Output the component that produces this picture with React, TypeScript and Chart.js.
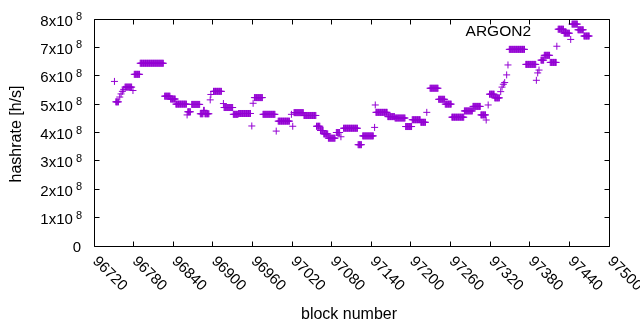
import React, { useEffect, useRef } from "react";
import { Chart, registerables } from "chart.js";

Chart.register(...registerables);

// ---- data: runs of consecutive blocks that share one hashrate value ----
const runStart = [
  96751, 96753, 96759, 96761, 96763, 96765, 96767, 96779, 96781, 96790,
  96827, 96836, 96844, 96861, 96862, 96868, 96881, 96886, 96888, 96896,
  96897, 96901, 96916, 96917, 96931, 96939, 96959, 96961, 96963, 96976,
  96996, 96999, 97019, 97021, 97023, 97038, 97057, 97063, 97068, 97075,
  97087, 97094, 97098, 97120, 97127, 97145, 97146, 97147, 97165, 97176,
  97192, 97202, 97215, 97224, 97229, 97242, 97252, 97262, 97281, 97294,
  97306, 97314, 97317, 97319, 97327, 97336, 97338, 97340, 97342, 97345,
  97347, 97349, 97374, 97390, 97392, 97394, 97397, 97402, 97411, 97421,
  97423, 97432, 97442, 97444, 97453, 97462,
];
const runEnd = [
  96751, 96757, 96759, 96761, 96763, 96765, 96777, 96779, 96789, 96825,
  96835, 96843, 96860, 96861, 96866, 96880, 96885, 96887, 96894, 96896,
  96897, 96913, 96916, 96930, 96938, 96957, 96959, 96961, 96975, 96994,
  96996, 97016, 97019, 97021, 97037, 97056, 97062, 97067, 97074, 97085,
  97092, 97094, 97119, 97125, 97143, 97145, 97146, 97164, 97175, 97191,
  97201, 97214, 97222, 97224, 97241, 97251, 97261, 97280, 97293, 97305,
  97313, 97314, 97317, 97326, 97334, 97336, 97338, 97340, 97342, 97345,
  97347, 97372, 97389, 97390, 97392, 97394, 97401, 97410, 97420, 97421,
  97431, 97440, 97442, 97452, 97461, 97470,
];
// hashrate in units of 1e8 h/s
const runHashrate = [
  5.8, 5.08, 5.25, 5.36, 5.45, 5.52, 5.6, 5.48, 6.05, 6.44,
  5.28, 5.18, 5.0, 4.62, 4.73, 4.99, 4.66, 4.78, 4.66, 5.15,
  5.34, 5.45, 5.02, 4.88, 4.64, 4.67, 4.23, 5.03, 5.23, 4.64,
  4.05, 4.4, 4.64, 4.22, 4.7, 4.6, 4.22, 4.07, 3.95, 3.8,
  4.0, 3.85, 4.15, 3.57, 3.88, 4.18, 4.97, 4.71, 4.56, 4.51,
  4.21, 4.45, 4.36, 4.71, 5.56, 5.17, 5.0, 4.54, 4.76, 4.92,
  4.62, 4.44, 4.97, 5.35, 5.22, 5.44, 5.6, 5.7, 5.76, 6.03,
  6.38, 6.93, 6.4, 5.84, 6.1, 6.2, 6.55, 6.72, 6.47, 7.04,
  7.64, 7.5, 7.28, 7.82, 7.62, 7.4,
];
const UNIT = 1e8;

const xTicks = [96720, 96780, 96840, 96900, 96960, 97020, 97080, 97140, 97200, 97260, 97320, 97380, 97440, 97500];
const yTicks = [0, 1, 2, 3, 4, 5, 6, 7, 8];
const yExponent = "8";
const seriesName = "ARGON2";
const xTitle = "block number";
const yTitle = "hashrate [h/s]";
const COLOR = "#9400D3";
const FONT = "'Liberation Sans', Arial, sans-serif";

function buildPoints() {
  const pts: { x: number; y: number }[] = [];
  for (let i = 0; i < runStart.length; i++) {
    for (let b = runStart[i]; b <= runEnd[i]; b++) {
      pts.push({ x: b, y: runHashrate[i] * UNIT });
    }
  }
  return pts;
}

const gnuplotFrame = {
  id: "gnuplotFrame",
  afterDatasetsDraw(chart: any) {
    const ctx: CanvasRenderingContext2D = chart.ctx;
    const xs = chart.scales.x;
    const ys = chart.scales.y;
    const a = chart.chartArea;
    const L = Math.floor(a.left) + 0.5;
    const R = Math.floor(a.right) + 0.5;
    const T = Math.floor(a.top) + 0.5;
    const B = Math.floor(a.bottom) + 0.5;
    ctx.save();
    ctx.strokeStyle = "#000";
    ctx.lineWidth = 1;
    ctx.beginPath();
    ctx.rect(L, T, R - L, B - T);
    // ticks (inward, mirrored)
    const tl = 5;
    for (const t of xTicks) {
      const x = Math.floor(xs.getPixelForValue(t)) + 0.5;
      ctx.moveTo(x, B);
      ctx.lineTo(x, B - tl);
      ctx.moveTo(x, T);
      ctx.lineTo(x, T + tl);
    }
    for (const v of yTicks) {
      const y = Math.floor(ys.getPixelForValue(v * UNIT)) + 0.5;
      ctx.moveTo(L, y);
      ctx.lineTo(L + tl, y);
      ctx.moveTo(R, y);
      ctx.lineTo(R - tl, y);
    }
    ctx.stroke();

    ctx.fillStyle = "#000";
    // y tick labels with superscript exponent
    const mainFont = `15px ${FONT}`;
    const supFont = `11px ${FONT}`;
    for (const v of yTicks) {
      const y = ys.getPixelForValue(v * UNIT);
      ctx.textBaseline = "alphabetic";
      if (v === 0) {
        ctx.font = mainFont;
        ctx.textAlign = "right";
        ctx.fillText("0", 81, y + 6);
        continue;
      }
      const main = `${v}x10`;
      ctx.font = supFont;
      const ws = ctx.measureText(yExponent).width;
      ctx.font = mainFont;
      const wm = ctx.measureText(main).width;
      const right = 82;
      const gap = 3;
      const x0 = right - ws - gap - wm;
      ctx.textAlign = "left";
      ctx.fillText(main, x0, y + 6.5);
      ctx.font = supFont;
      ctx.fillText(yExponent, right - ws, y + 1);
    }

    // x tick labels rotated -45 (down-right)
    ctx.font = mainFont;
    for (const t of xTicks) {
      const x = xs.getPixelForValue(t);
      ctx.save();
      ctx.translate(x + 1, 259);
      ctx.rotate(Math.PI / 4);
      ctx.textAlign = "left";
      ctx.textBaseline = "middle";
      ctx.fillText(String(t), 0, 0);
      ctx.restore();
    }

    // axis titles
    ctx.font = `16px ${FONT}`;
    ctx.textAlign = "center";
    ctx.textBaseline = "middle";
    ctx.fillText(xTitle, 349, 315);
    ctx.save();
    ctx.translate(17, 134);
    ctx.rotate(-Math.PI / 2);
    ctx.fillText(yTitle, 0, 0);
    ctx.restore();

    // key
    ctx.font = `15.5px ${FONT}`;
    ctx.textAlign = "right";
    ctx.textBaseline = "middle";
    ctx.fillText(seriesName, 531, 32);
    ctx.strokeStyle = COLOR;
    ctx.beginPath();
    ctx.moveTo(565.5, 28.5);
    ctx.lineTo(565.5, 35.5);
    ctx.moveTo(562, 32.5);
    ctx.lineTo(569, 32.5);
    ctx.stroke();
    ctx.restore();
  },
};

export default function App() {
  const ref = useRef<HTMLCanvasElement>(null);
  useEffect(() => {
    const canvas = ref.current!;
    const chart = new Chart(canvas, {
      type: "scatter",
      data: {
        datasets: [
          {
            label: seriesName,
            data: buildPoints(),
            pointStyle: "cross",
            pointRadius: 3.5,
            pointBorderWidth: 1,
            borderColor: COLOR,
            backgroundColor: COLOR,
            showLine: false,
          } as any,
        ],
      },
      options: {
        responsive: false,
        animation: false,
        devicePixelRatio: 1,
        events: [],
        layout: { padding: { left: 94, right: 31, top: 19, bottom: 84 } },
        plugins: { legend: { display: false }, tooltip: { enabled: false } },
        scales: {
          x: { type: "linear", min: 96720, max: 97500, display: false },
          y: { type: "linear", min: 0, max: 8 * UNIT, display: false },
        },
      },
      plugins: [gnuplotFrame],
    });
    return () => chart.destroy();
  }, []);
  return (
    <div style={{ position: "absolute", left: 0, top: 0, width: 640, height: 330, background: "#fff" }}>
      <canvas ref={ref} width={640} height={330} style={{ display: "block" }} />
    </div>
  );
}
